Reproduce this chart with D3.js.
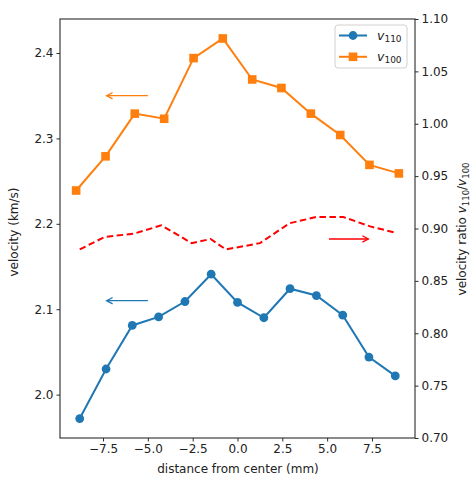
<!DOCTYPE html>
<html><head><meta charset="utf-8">
<script src="https://cdn.jsdelivr.net/npm/d3@7"></script>
<style>html,body{margin:0;padding:0;background:#fff;}svg{display:block;font-family:"DejaVu Sans",sans-serif;}</style>
</head><body>
<svg id="chart" width="476" height="480"></svg>
<script>
// ---- data ----
const xBlue = [-8.8,-7.33,-5.87,-4.4,-2.93,-1.47,0,1.47,2.93,4.4,5.87,7.33,8.8];
const v110 = [1.972,2.030,2.081,2.091,2.109,2.141,2.108,2.090,2.124,2.116,2.093,2.044,2.022];
const xOrange = [-9,-7.36,-5.73,-4.09,-2.45,-0.82,0.82,2.45,4.09,5.73,7.36,9];
const v100 = [2.239,2.279,2.329,2.323,2.394,2.417,2.369,2.359,2.329,2.304,2.269,2.259];
const xRatio = [-8.8,-7.4,-5.8,-4.25,-2.55,-1.5,-0.65,1.25,2.9,4.4,5.9,7.4,8.8];
const ratio = [0.880,0.892,0.895,0.903,0.886,0.890,0.880,0.886,0.905,0.911,0.911,0.902,0.896];
const xTicks = [-7.5,-5,-2.5,0,2.5,5,7.5];
const yLeftTicks = [2.0,2.1,2.2,2.3,2.4];
const yRightTicks = [0.70,0.75,0.80,0.85,0.90,0.95,1.00,1.05,1.10];
const arrowsLeft = [{from:-5.0,to:-7.3,y:2.35,color:"#ff7f0e"},{from:-5.0,to:-7.3,y:2.11,color:"#1f77b4"}];
const arrowsRight = [{from:5.1,to:7.3,y:0.89,color:"#ff0000"}];

// ---- layout ----
const L=60, R=415, T=19, B=438;
const svg = d3.select("#chart");
const x = d3.scaleLinear().domain([-9.9,9.9]).range([L,R]);
const yL = d3.scaleLinear().domain([1.9492,2.4398]).range([B,T]);
const yR = d3.scaleLinear().domain([0.70,1.10]).range([B,T]);
const axisColor = "#2a2a2a", textColor = "#222";

function styleAxis(g){
  g.select(".domain").remove();
  g.selectAll("line").attr("stroke",axisColor).attr("stroke-width",1);
  g.selectAll("text").attr("fill",textColor).attr("font-size",12).attr("font-family","DejaVu Sans, sans-serif");
}
const gx = svg.append("g").attr("transform",`translate(0,${B})`)
  .call(d3.axisBottom(x).tickValues(xTicks).tickFormat(d3.format(".1f")).tickSizeOuter(0).tickSize(3.5).tickPadding(3));
styleAxis(gx);
const gl = svg.append("g").attr("transform",`translate(${L},0)`)
  .call(d3.axisLeft(yL).tickValues(yLeftTicks).tickFormat(d3.format(".1f")).tickSizeOuter(0).tickSize(3.5).tickPadding(3));
styleAxis(gl);
const gr = svg.append("g").attr("transform",`translate(${R},0)`)
  .call(d3.axisRight(yR).tickValues(yRightTicks).tickFormat(d3.format(".2f")).tickSizeOuter(0).tickSize(3.5).tickPadding(3));
styleAxis(gr);
// frame
svg.append("rect").attr("x",L).attr("y",T).attr("width",R-L).attr("height",B-T)
  .attr("fill","none").attr("stroke",axisColor).attr("stroke-width",1.1);

// ---- series ----
const blue="#1f77b4", orange="#ff7f0e";
const lineL = d3.line().x(d=>x(d[0])).y(d=>yL(d[1]));
const blueData = xBlue.map((d,i)=>[d,v110[i]]);
const orangeData = xOrange.map((d,i)=>[d,v100[i]]);
const ratioData = xRatio.map((d,i)=>[d,ratio[i]]);

svg.append("path").datum(orangeData).attr("d",lineL).attr("fill","none").attr("stroke",orange).attr("stroke-width",2);
svg.selectAll(".sq").data(orangeData).enter().append("rect")
  .attr("x",d=>x(d[0])-4.3).attr("y",d=>yL(d[1])-4.3).attr("width",8.6).attr("height",8.6).attr("fill",orange);

svg.append("path").datum(blueData).attr("d",lineL).attr("fill","none").attr("stroke",blue).attr("stroke-width",2);
svg.selectAll(".dot").data(blueData).enter().append("circle")
  .attr("cx",d=>x(d[0])).attr("cy",d=>yL(d[1])).attr("r",4.4).attr("fill",blue);

svg.append("path").datum(ratioData)
  .attr("d",d3.line().x(d=>x(d[0])).y(d=>yR(d[1])))
  .attr("fill","none").attr("stroke","#ff0000").attr("stroke-width",2).attr("stroke-dasharray","6.5,3.5");

// ---- arrows ----
function arrow(x0,x1,yy,color){
  const dir = Math.sign(x1-x0);
  svg.append("line").attr("x1",x0).attr("x2",x1).attr("y1",yy).attr("y2",yy)
    .attr("stroke",color).attr("stroke-width",1.3);
  svg.append("path").attr("d",`M${x1-dir*6},${yy-3.2} L${x1},${yy} L${x1-dir*6},${yy+3.2}`)
    .attr("fill","none").attr("stroke",color).attr("stroke-width",1.3);
}
arrowsLeft.forEach(a=>arrow(x(a.from),x(a.to),yL(a.y),a.color));
arrowsRight.forEach(a=>arrow(x(a.from),x(a.to),yR(a.y),a.color));

// ---- legend ----
const lg = svg.append("g");
lg.append("rect").attr("x",335).attr("y",25).attr("width",72).attr("height",43).attr("rx",3)
  .attr("fill","#fff").attr("fill-opacity",0.85).attr("stroke","#d0d0d0").attr("stroke-width",1);
const legendItems = [{c:blue,m:"circle",sub:"110"},{c:orange,m:"square",sub:"100"}];
legendItems.forEach((it,i)=>{
  const yy = 35.5 + i*21.3;
  lg.append("line").attr("x1",339).attr("x2",367).attr("y1",yy).attr("y2",yy).attr("stroke",it.c).attr("stroke-width",2);
  if(it.m==="circle") lg.append("circle").attr("cx",353).attr("cy",yy).attr("r",4.4).attr("fill",it.c);
  else lg.append("rect").attr("x",353-4.3).attr("y",yy-4.3).attr("width",8.6).attr("height",8.6).attr("fill",it.c);
  const t = lg.append("text").attr("x",377).attr("y",yy+4).attr("font-size",12.5).attr("fill",textColor);
  t.append("tspan").attr("font-style","italic").text("v");
  t.append("tspan").attr("font-size",9).attr("dy",2.5).text(it.sub);
});

// ---- axis labels ----
svg.append("text").attr("x",238).attr("y",473).attr("text-anchor","middle")
  .attr("font-size",12).attr("fill",textColor).text("distance from center (mm)");
svg.append("text").attr("transform","translate(18,232) rotate(-90)").attr("text-anchor","middle")
  .attr("font-size",12).attr("fill",textColor).text("velocity (km/s)");
const rl = svg.append("text").attr("transform","translate(466,229) rotate(-90)").attr("text-anchor","middle")
  .attr("font-size",12).attr("fill",textColor);
rl.append("tspan").text("velocity ratio ");
rl.append("tspan").attr("font-style","italic").text("v");
rl.append("tspan").attr("font-size",8.5).attr("dy",2.5).text("110");
rl.append("tspan").attr("dy",-2.5).text("/");
rl.append("tspan").attr("font-style","italic").text("v");
rl.append("tspan").attr("font-size",8.5).attr("dy",2.5).text("100");
</script>
</body></html>
